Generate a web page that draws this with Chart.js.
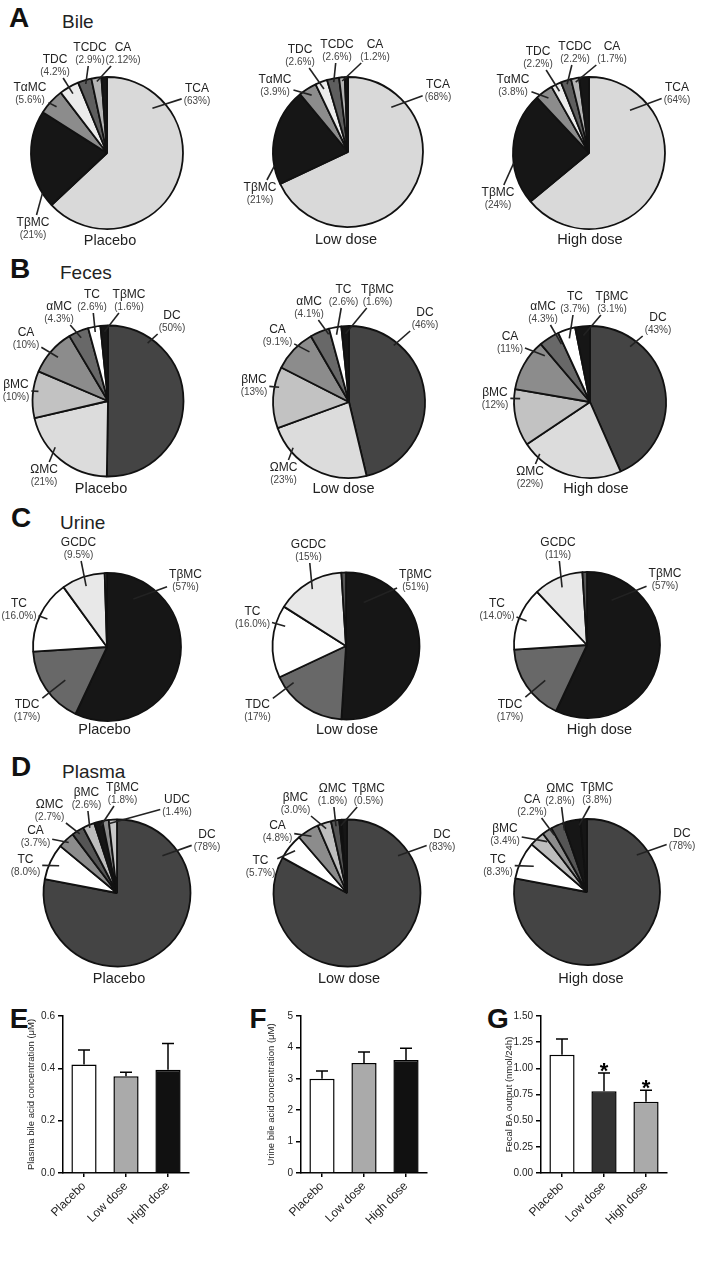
<!DOCTYPE html>
<html>
<head>
<meta charset="utf-8">
<script src="https://cdn.jsdelivr.net/npm/chart.js@4.4.1/dist/chart.umd.min.js"></script>
<style>
  body { margin: 0; background: #fff; }
  #fig { position: relative; width: 715px; height: 1270px; overflow: hidden;
         font-family: "Liberation Sans", Arial, sans-serif; color: #222; }
  #fig canvas { position: absolute; }
  .t { position: absolute; white-space: nowrap; line-height: 1; transform: translate(-50%, -50%); }
  .l { position: absolute; white-space: nowrap; line-height: 1; transform: translate(0, -50%); }
</style>
</head>
<body>
<div id="fig"></div>
<script>
// ---------- data: pie panels ----------
// Bile (A)
const bileNames = ['TCA', 'TβMC', 'TαMC', 'TDC', 'TCDC', 'CA', ''];
const bilePlacebo = [63, 21, 5.6, 4.2, 2.9, 2.12, 1.18];
const bilePlaceboPct = ['63%', '21%', '5.6%', '4.2%', '2.9%', '2.12%', ''];
const bileLow = [68, 21, 3.9, 2.6, 2.6, 1.2, 0.7];
const bileLowPct = ['68%', '21%', '3.9%', '2.6%', '2.6%', '1.2%', ''];
const bileHigh = [64, 24, 3.8, 2.2, 2.2, 1.7, 2.1];
const bileHighPct = ['64%', '24%', '3.8%', '2.2%', '2.2%', '1.7%', ''];

// Feces (B)
const fecesNames = ['DC', 'ΩMC', 'βMC', 'CA', 'αMC', 'TC', 'TβMC'];
const fecesPlacebo = [50, 21, 10, 10, 4.3, 2.6, 1.6];
const fecesPlaceboPct = ['50%', '21%', '10%', '10%', '4.3%', '2.6%', '1.6%'];
const fecesLow = [46, 23, 13, 9.1, 4.1, 2.6, 1.6];
const fecesLowPct = ['46%', '23%', '13%', '9.1%', '4.1%', '2.6%', '1.6%'];
const fecesHigh = [43, 22, 12, 11, 4.3, 3.7, 3.1];
const fecesHighPct = ['43%', '22%', '12%', '11%', '4.3%', '3.7%', '3.1%'];

// Urine (C)
const urineNames = ['TβMC', 'TDC', 'TC', 'GCDC', ''];
const urinePlacebo = [57, 17, 16.0, 9.5, 0.5];
const urinePlaceboPct = ['57%', '17%', '16.0%', '9.5%', ''];
const urineLow = [51, 17, 16.0, 15, 1];
const urineLowPct = ['51%', '17%', '16.0%', '15%', ''];
const urineHigh = [57, 17, 14.0, 11, 1];
const urineHighPct = ['57%', '17%', '14.0%', '11%', ''];

// Plasma (D)
const plasmaPlaceboNames = ['DC', 'TC', 'CA', 'ΩMC', 'βMC', 'TβMC', 'UDC', ''];
const plasmaPlacebo = [78, 8.0, 3.7, 2.7, 2.6, 1.8, 1.4, 1.8];
const plasmaPlaceboPct = ['78%', '8.0%', '3.7%', '2.7%', '2.6%', '1.8%', '1.4%', ''];
const plasmaLowNames = ['DC', 'TC', 'CA', 'βMC', 'ΩMC', 'TβMC', ''];
const plasmaLow = [83, 5.7, 4.8, 3.0, 1.8, 0.5, 1.2];
const plasmaLowPct = ['83%', '5.7%', '4.8%', '3.0%', '1.8%', '0.5%', ''];
const plasmaHighNames = ['DC', 'TC', 'βMC', 'CA', 'ΩMC', 'TβMC', ''];
const plasmaHigh = [78, 8.3, 3.4, 2.2, 2.8, 3.8, 1.5];
const plasmaHighPct = ['78%', '8.3%', '3.4%', '2.2%', '2.8%', '3.8%', ''];

// ---------- data: bar panels ----------
const groups = ['Placebo', 'Low dose', 'High dose'];
const plasmaConc = [0.415, 0.37, 0.395];
const plasmaConcErr = [0.055, 0.015, 0.1];
const urineConc = [3.0, 3.5, 3.6];
const urineConcErr = [0.25, 0.35, 0.37];
const fecalOutput = [1.13, 0.78, 0.68];
const fecalOutputErr = [0.15, 0.175, 0.11];
const fecalSignif = ['', '*', '*'];

// ---------- styles ----------
const FONT = '"Liberation Sans", Arial, sans-serif';
const bileColors = ['#d9d9d9', '#161616', '#8c8c8c', '#ececec', '#5e5e5e', '#b4b4b4', '#161616'];
const fecesColors = ['#444444', '#dcdcdc', '#c2c2c2', '#8c8c8c', '#686868', '#ffffff', '#161616'];
const urineColors = ['#161616', '#686868', '#ffffff', '#e8e8e8', '#555555'];
const plasmaPlaceboColors = ['#444444', '#ffffff', '#8c8c8c', '#555555', '#bdbdbd', '#161616', '#8c8c8c', '#c8c8c8'];
const plasmaLowColors = ['#444444', '#ffffff', '#8c8c8c', '#bdbdbd', '#555555', '#161616', '#161616'];
const plasmaHighColors = ['#444444', '#ffffff', '#bdbdbd', '#8c8c8c', '#555555', '#161616', '#161616'];

// label placement per slice: [text dx, text dy, anchor pos in slice (0..1), anchor radius frac]
const bilePlaceboPos = [[90, -64, 0.2, 0.84], [-74, 70, 0.15, 1.0], [-77, -65], [-52, -93], [-17, -105, 0.5, 0.95], [16, -105, 0.5, 0.95], null];
const bileLowPos = [[90, -67, 0.18, 0.83], [-88, 36, 0.19, 1.0], [-73, -72], [-48, -102], [-11, -107, 0.5, 0.95], [27, -107, 0.5, 0.95], null];
const bileHighPos = [[88, -65, 0.19, 0.78], [-91, 40, 0.37, 1.0], [-76, -73], [-51, -101], [-14, -106, 0.5, 0.95], [23, -106, 0.5, 0.95], null];
const fecesPlaceboPos = [[64, -85, 0.19, 0.93], [-64, 69, 0.63, 0.93], [-92, -16, 0.58, 0.93], [-82, -68, 0.5, 0.88], [-49, -94, 0.5, 0.91], [-16, -106, 0.5, 0.93], [21, -106, 0.5, 0.92]];
const fecesLowPos = [[76, -89, 0.23, 0.95], [-65.5, 66, 0.77, 0.95], [-95, -22, 0.68, 0.94], [-71.5, -72, 0.75, 0.84], [-40, -100, 0.9, 0.93], [-5.5, -112], [28.5, -112]];
const fecesHighPos = [[68, -84, 0.23, 0.9], [-60, 70, 0.85, 0.95], [-95, -9, 0.84, 0.92], [-80, -65, 0.9, 0.85], [-47, -95, 0.9, 0.85], [-15, -105, 0.5, 0.88], [22, -105, 0.5, 0.88]];
const urinePlaceboPos = [[78.5, -72, 0.14, 0.74], [-80, 58, 0.43, 0.72], [-88, -43, 0.5, 0.89], [-28.5, -104, 0.5, 0.87], null];
const urineLowPos = [[69.5, -71, 0.12, 0.64], [-88.5, 59, 0.84, 0.87], [-93.5, -34, 0.75, 0.87], [-37.5, -101], null];
const urineHighPos = [[78, -71, 0.14, 0.7], [-77, 60, 0.4, 0.75], [-90, -41, 0.5, 0.89], [-29, -102, 0.5, 0.86], null];
const plasmaPlaceboPos = [[90, -58, 0.18, 0.8], [-91.5, -33, 0.5, 0.87], [-81.5, -62, 0.5, 0.95], [-67.5, -88, 0.5, 0.95], [-30.5, -100, 0.5, 0.96], [5.5, -105, 0.7, 0.94], [60, -93, 0.9, 0.95], null];
const plasmaLowPos = [[95, -58, 0.18, 0.86], [-86.5, -32, 0.5, 0.91], [-69.5, -67, 0.5, 0.91], [-51.5, -95, 0.5, 0.92], [-14.5, -104, 0.5, 0.92], [21.5, -104, 0.5, 0.92], null];
const plasmaHighPos = [[95, -58, 0.19, 0.85], [-89, -32, 0.5, 0.81], [-82, -63, 0.9, 0.88], [-55, -92, 0.9, 0.9], [-27, -103, 0.9, 0.9], [10, -104, 0.9, 0.92], null];

const fig = document.getElementById('fig');

function addText(cls, text, x, y, css) {
    const d = document.createElement('div');
    d.className = cls;
    d.textContent = text;
    d.style.left = x + 'px';
    d.style.top = y + 'px';
    Object.assign(d.style, css || {});
    fig.appendChild(d);
}

function addCanvas(left, top, w, h) {
    const c = document.createElement('canvas');
    c.width = w; c.height = h;
    c.style.left = left + 'px';
    c.style.top = top + 'px';
    c.style.width = w + 'px';
    c.style.height = h + 'px';
    fig.appendChild(c);
    return c;
}

// leader-line labels drawn from the arc elements
const pieLabels = {
    id: 'pieLabels',
    afterDatasetsDraw(chart, args, opts) {
        const ctx = chart.ctx;
        const arcs = chart.getDatasetMeta(0).data;
        const names = chart.data.labels;
        ctx.save();
        arcs.forEach((arc, i) => {
            const p = opts.pos[i];
            if (!p) return;
            const {x, y, startAngle, endAngle, outerRadius} =
                arc.getProps(['x', 'y', 'startAngle', 'endAngle', 'outerRadius'], true);
            const af = p[2] === undefined ? 0.5 : p[2];
            const rf = p[3] === undefined ? 0.9 : p[3];
            const a = startAngle + af * (endAngle - startAngle);
            const ax = x + Math.cos(a) * rf * outerRadius;
            const ay = y + Math.sin(a) * rf * outerRadius;
            const tx = x + p[0], ty = y + p[1];
            const pct = '(' + opts.pct[i] + ')';

            ctx.font = '12px ' + FONT;
            const w1 = ctx.measureText(names[i]).width;
            ctx.font = '10px ' + FONT;
            const w2 = ctx.measureText(pct).width;
            const hw = Math.max(w1, w2) / 2 + 2;
            const l = tx - hw, r = tx + hw, t = ty - 8, b = ty + 18;

            // stop the leader at the text box
            const dx = tx - ax, dy = (t + b) / 2 - ay;
            let tEnter = 0;
            if (dx > 0) tEnter = Math.max(tEnter, (l - ax) / dx);
            if (dx < 0) tEnter = Math.max(tEnter, (r - ax) / dx);
            if (dy > 0) tEnter = Math.max(tEnter, (t - ay) / dy);
            if (dy < 0) tEnter = Math.max(tEnter, (b - ay) / dy);
            tEnter = Math.min(tEnter, 1);

            ctx.strokeStyle = '#222';
            ctx.lineWidth = 1.6;
            ctx.beginPath();
            ctx.moveTo(ax, ay);
            ctx.lineTo(ax + dx * tEnter, ay + dy * tEnter);
            ctx.stroke();

            ctx.fillStyle = '#222';
            ctx.textAlign = 'center';
            ctx.textBaseline = 'middle';
            ctx.font = '12px ' + FONT;
            ctx.fillText(names[i], tx, ty);
            ctx.fillStyle = '#444';
            ctx.font = '10px ' + FONT;
            ctx.fillText(pct, tx, ty + 12);
        });
        ctx.restore();
    }
};

function pieChart(cx, cy, r, names, values, pct, colors, pos) {
    const canvas = addCanvas(cx - 120, cy - 125, 240, 250);
    new Chart(canvas, {
        type: 'pie',
        data: {
            labels: names,
            datasets: [{
                data: values,
                backgroundColor: colors,
                borderColor: '#111',
                borderWidth: 1.8
            }]
        },
        options: {
            responsive: false,
            animation: false,
            radius: r,
            layout: {padding: 0},
            plugins: {
                legend: {display: false},
                tooltip: {enabled: false},
                pieLabels: {pos: pos, pct: pct}
            }
        },
        plugins: [pieLabels]
    });
}

// error bars and significance marks from the bar elements
const errorBars = {
    id: 'errorBars',
    afterDatasetsDraw(chart, args, opts) {
        const ctx = chart.ctx;
        const yScale = chart.scales.y;
        const values = chart.data.datasets[0].data;
        ctx.save();
        ctx.strokeStyle = '#000';
        ctx.lineWidth = 1.5;
        chart.getDatasetMeta(0).data.forEach((bar, i) => {
            const top = yScale.getPixelForValue(values[i] + opts.errors[i]);
            ctx.beginPath();
            ctx.moveTo(bar.x, bar.y);
            ctx.lineTo(bar.x, top);
            ctx.moveTo(bar.x - 6, top);
            ctx.lineTo(bar.x + 6, top);
            ctx.stroke();
            if (opts.marks && opts.marks[i]) {
                ctx.fillStyle = '#000';
                ctx.font = 'bold 22px ' + FONT;
                ctx.textAlign = 'center';
                ctx.textBaseline = 'alphabetic';
                ctx.fillText(opts.marks[i], bar.x, top + 5);
            }
        });
        ctx.restore();
    }
};

function barChart(canvasLeft, areaLeft, values, errors, colors, yMax, step, digits, title, marks) {
    const top = 995, w = 240, h = 275;
    const padTop = 1016 - top, areaW = 126, plotH = 157, padLeft = 24;
    const canvas = addCanvas(canvasLeft, top, w, h);
    new Chart(canvas, {
        type: 'bar',
        data: {
            labels: groups,
            datasets: [{
                data: values,
                backgroundColor: colors,
                borderColor: '#000',
                borderWidth: 1.5,
                borderSkipped: 'bottom',
                barPercentage: 0.6,
                categoryPercentage: 1.0
            }]
        },
        options: {
            responsive: false,
            animation: false,
            layout: {padding: {top: padTop, left: padLeft, right: w - (areaLeft - canvasLeft) - areaW, bottom: 0}},
            scales: {
                x: {
                    grid: {display: true, drawOnChartArea: false, offset: false, tickLength: 4, color: '#000', lineWidth: 1.5},
                    border: {display: true, color: '#000', width: 1.5},
                    ticks: {color: '#222', font: {family: FONT, size: 12}, minRotation: 45, maxRotation: 45, padding: 2},
                    afterFit(scale) { scale.height = h - padTop - plotH; }
                },
                y: {
                    min: 0, max: yMax,
                    grid: {display: true, drawOnChartArea: false, tickLength: 5, color: '#000', lineWidth: 1.5},
                    border: {display: true, color: '#000', width: 1.5},
                    ticks: {stepSize: step, color: '#222', font: {family: FONT, size: 10}, padding: 3,
                            callback: v => v.toFixed(digits)},
                    title: {display: true, text: title, color: '#222', font: {family: FONT, size: 9.5}, padding: 2},
                    afterFit(scale) { scale.width = areaLeft - canvasLeft - padLeft; }
                }
            },
            plugins: {
                legend: {display: false},
                tooltip: {enabled: false},
                errorBars: {errors: errors, marks: marks}
            }
        },
        plugins: [errorBars]
    });
}

// ---------- panel headings ----------
const letterCss = {fontSize: '28px', fontWeight: 'bold', color: '#111'};
const titleCss = {fontSize: '19px', color: '#222'};
addText('t', 'A', 19, 17.5, letterCss);
addText('l', 'Bile', 62, 21, titleCss);
addText('t', 'B', 20, 269, letterCss);
addText('l', 'Feces', 60, 271.5, titleCss);
addText('t', 'C', 21, 518, letterCss);
addText('l', 'Urine', 60, 522, titleCss);
addText('t', 'D', 21, 767, letterCss);
addText('l', 'Plasma', 62, 770.5, titleCss);
addText('t', 'E', 19, 1019, letterCss);
addText('t', 'F', 258, 1019, letterCss);
addText('t', 'G', 498, 1019, letterCss);

// ---------- pies ----------
pieChart(107, 153, 76, bileNames, bilePlacebo, bilePlaceboPct, bileColors, bilePlaceboPos);
pieChart(348, 152, 75, bileNames, bileLow, bileLowPct, bileColors, bileLowPos);
pieChart(589, 153, 76, bileNames, bileHigh, bileHighPct, bileColors, bileHighPos);

pieChart(107.5, 401, 75.5, fecesNames, fecesPlacebo, fecesPlaceboPct, fecesColors, fecesPlaceboPos);
pieChart(348.5, 402, 76, fecesNames, fecesLow, fecesLowPct, fecesColors, fecesLowPos);
pieChart(590, 402, 76, fecesNames, fecesHigh, fecesHighPct, fecesColors, fecesHighPos);

pieChart(106.5, 647, 74, urineNames, urinePlacebo, urinePlaceboPct, urineColors, urinePlaceboPos);
pieChart(345.5, 646, 73.5, urineNames, urineLow, urineLowPct, urineColors, urineLowPos);
pieChart(587, 645, 73, urineNames, urineHigh, urineHighPct, urineColors, urineHighPos);

pieChart(116.5, 893, 73.5, plasmaPlaceboNames, plasmaPlacebo, plasmaPlaceboPct, plasmaPlaceboColors, plasmaPlaceboPos);
pieChart(346.5, 893, 73.5, plasmaLowNames, plasmaLow, plasmaLowPct, plasmaLowColors, plasmaLowPos);
pieChart(587, 892, 73, plasmaHighNames, plasmaHigh, plasmaHighPct, plasmaHighColors, plasmaHighPos);

// ---------- pie captions ----------
const capCss = {fontSize: '14.5px', color: '#222'};
[[110, 240], [346, 239], [590, 239]].forEach((p, i) => addText('t', groups[i], p[0], p[1], capCss));
[[101, 488], [343.5, 488], [596, 488]].forEach((p, i) => addText('t', groups[i], p[0], p[1], capCss));
[[104.5, 729], [347, 729], [599.5, 729]].forEach((p, i) => addText('t', groups[i], p[0], p[1], capCss));
[[119, 978], [349, 978], [591, 978]].forEach((p, i) => addText('t', groups[i], p[0], p[1], capCss));

// ---------- bars ----------
barChart(0, 63, plasmaConc, plasmaConcErr, ['#ffffff', '#aaaaaa', '#111111'], 0.6, 0.2, 1,
         'Plasma bile acid concentration (μM)', null);
barChart(240, 301, urineConc, urineConcErr, ['#ffffff', '#aaaaaa', '#111111'], 5, 1, 0,
         'Urine bile acid concentration (μM)', null);
barChart(478, 541, fecalOutput, fecalOutputErr, ['#ffffff', '#333333', '#aaaaaa'], 1.5, 0.25, 2,
         'Fecal BA output (nmol/24h)', fecalSignif);
</script>
</body>
</html>
